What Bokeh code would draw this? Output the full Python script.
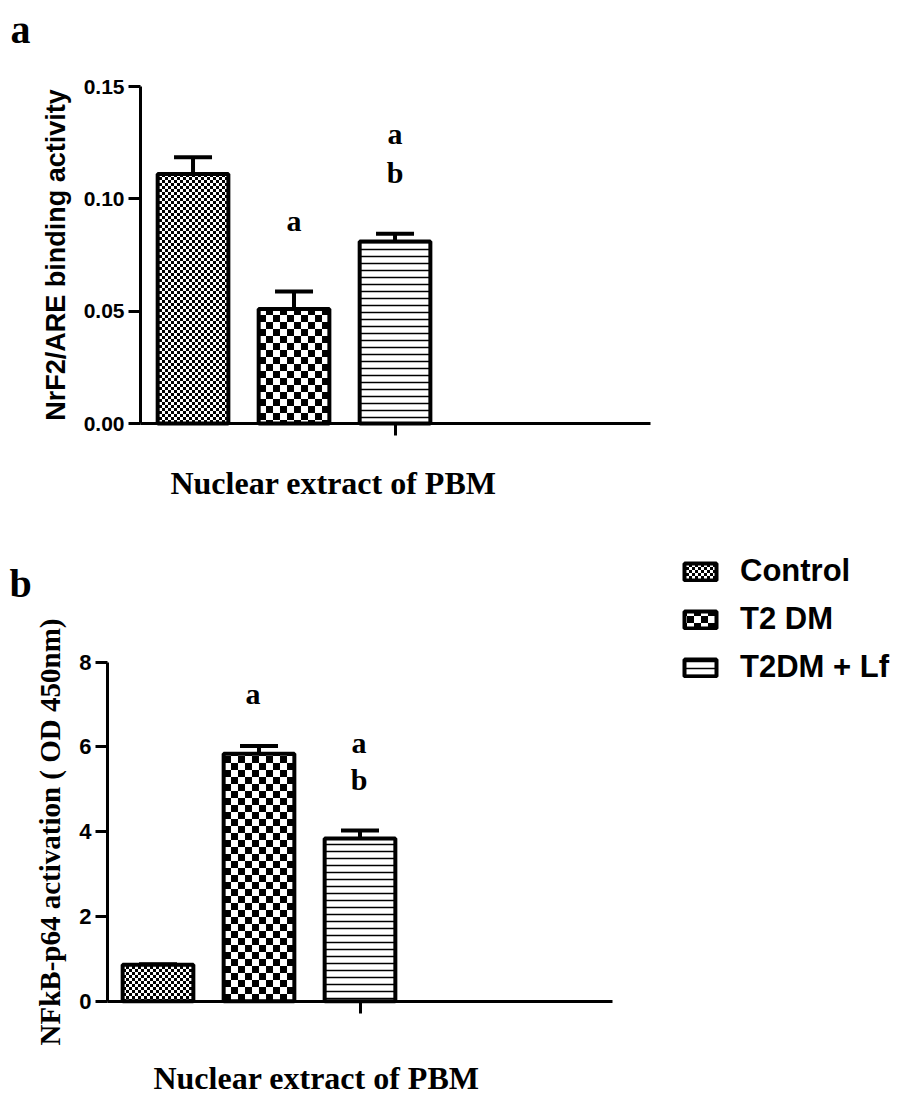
import base64
import struct
import zlib

from bokeh.plotting import figure
from bokeh.models import (ColumnDataSource, Whisker, TeeHead, FixedTicker, Label,
                          ImageURLTexture, Legend, LegendItem, LinearAxis, Range1d)
from bokeh.core.properties import value
from bokeh.embed import file_html
from bokeh.resources import INLINE

# ---------------- data ----------------
groups = ["Control", "T2 DM", "T2DM + Lf"]
bar_pos = [1, 2, 3]

nrf2_mean = [0.111, 0.051, 0.081]
nrf2_sem = [0.0075, 0.0077, 0.0035]

nfkb_mean = [0.86, 5.84, 3.84]
nfkb_sem = [0.01, 0.18, 0.19]

a_sig_text = ["a", "a", "b"]
a_sig_x = [2, 3, 3]
a_sig_y = [0.0902, 0.1289, 0.1116]

b_sig_text = ["a", "a", "b"]
b_sig_x = [1.94, 2.99, 2.99]
b_sig_y = [7.26, 6.10, 5.23]

a_yticks = [0.0, 0.05, 0.10, 0.15]
b_yticks = [0, 2, 4, 6, 8]

# ---------------- layout constants (pixels) ----------------
W, H = 890, 1099
SANS = "Liberation Sans"
SERIF = "Liberation Serif"

# panel a: axis origin at px (140, 423), 101 px per bar step, 0.15 -> px 86
A_X0, A_Y0, A_XS, A_YS, A_XSTART = 140, 423, 101.0, 337 / 0.15, 0.48
# panel b: axis origin at px (107, 1000.7), 0..8 over 339 px
B_X0, B_Y0, B_XS, B_YS, B_XSTART = 107, 1000.7, 101.0, 339 / 8, 0.5

p = figure(width=W, height=H, min_border=0,
           x_range=Range1d(0, W), y_range=Range1d(H, 0),
           x_axis_location=None, y_axis_location=None,
           output_backend="svg", toolbar_location=None)
p.grid.visible = False
p.outline_line_color = None

p.extra_x_ranges = {
    "xa": Range1d(A_XSTART - A_X0 / A_XS, A_XSTART + (W - A_X0) / A_XS),
    "xb": Range1d(B_XSTART - B_X0 / B_XS, B_XSTART + (W - B_X0) / B_XS),
}
p.extra_y_ranges = {
    "ya": Range1d((A_Y0 - H) / A_YS, A_Y0 / A_YS),
    "yb": Range1d((B_Y0 - H) / B_YS, B_Y0 / B_YS),
}


def checker_png(n):
    """data-URL PNG of a black/white checker tile n x n px (square n/2)."""
    s = n // 2
    raw = b"".join(
        b"\x00" + bytes(0 if ((x // s + y // s) % 2 == 0) else 255 for x in range(n))
        for y in range(n))

    def chunk(tag, data):
        return (struct.pack(">I", len(data)) + tag + data
                + struct.pack(">I", zlib.crc32(tag + data) & 0xffffffff))

    png = (b"\x89PNG\r\n\x1a\n"
           + chunk(b"IHDR", struct.pack(">IIBBBBB", n, n, 8, 0, 0, 0, 0))
           + chunk(b"IDAT", zlib.compress(raw))
           + chunk(b"IEND", b""))
    return "data:image/png;base64," + base64.b64encode(png).decode()


fine_tex = ImageURLTexture(url=checker_png(6))
big_tex = ImageURLTexture(url=checker_png(14))


def hatch_for(i):
    if i == 0:
        return dict(hatch_pattern=value("fine"), hatch_extra={"fine": fine_tex})
    if i == 1:
        return dict(hatch_pattern=value("big"), hatch_extra={"big": big_tex})
    return dict(hatch_pattern="horizontal_line", hatch_scale=7, hatch_weight=1.5)


def style_axis(ax):
    ax.axis_line_width = 3
    ax.axis_line_color = "black"
    ax.major_tick_line_width = 3
    ax.major_tick_line_color = "black"
    ax.major_tick_out = 12
    ax.major_tick_in = 0
    ax.minor_tick_line_color = None


def add_panel(xr, yr, xstart, xend, ytop, yticks, overrides, tick_size,
              ylabel, ylabel_font, ylabel_size, means, sems,
              sig_x, sig_y, sig_text):
    yax = LinearAxis(x_range_name=xr, y_range_name=yr, fixed_location=xstart,
                     bounds=(0, ytop), ticker=FixedTicker(ticks=yticks),
                     major_label_overrides=overrides,
                     major_label_text_font=SANS, major_label_text_font_style="bold",
                     major_label_text_font_size=tick_size,
                     major_label_text_color="black", major_label_standoff=4,
                     axis_label=ylabel, axis_label_text_font=ylabel_font,
                     axis_label_text_font_style="bold",
                     axis_label_text_font_size=ylabel_size,
                     axis_label_text_color="black", axis_label_standoff=10)
    style_axis(yax)
    p.add_layout(yax, "left")
    xax = LinearAxis(x_range_name=xr, y_range_name=yr, fixed_location=0,
                     bounds=(xstart, xend), ticker=FixedTicker(ticks=[3]),
                     major_label_overrides={3: ""},
                     major_label_text_font_size="1px")
    style_axis(xax)
    p.add_layout(xax, "below")

    rs = []
    for i in range(len(groups)):
        r = p.vbar(x=[bar_pos[i]], top=[means[i]], bottom=0, width=0.7,
                   x_range_name=xr, y_range_name=yr,
                   fill_color="white", hatch_color="black",
                   line_color="black", line_width=4, **hatch_for(i))
        rs.append(r)
    src = ColumnDataSource(dict(
        x=bar_pos,
        upper=[m + s for m, s in zip(means, sems)],
        lower=means,
    ))
    w = Whisker(source=src, base="x", upper="upper", lower="lower",
                x_range_name=xr, y_range_name=yr,
                upper_head=TeeHead(size=38, line_width=4, line_color="black"),
                lower_head=None, line_width=4, line_color="black")
    p.add_layout(w)
    p.text(x=sig_x, y=sig_y, text=sig_text, x_range_name=xr, y_range_name=yr,
           text_font=value(SERIF), text_font_style="bold", text_font_size="30px",
           text_align="center", text_baseline="middle", text_color="black")
    return rs


add_panel("xa", "ya", A_XSTART, A_XSTART + 510 / A_XS, 0.15, a_yticks,
          {0.0: "0.00", 0.05: "0.05", 0.1: "0.10", 0.15: "0.15"}, "21px",
          "NrF2/ARE binding activity", SANS, "27px",
          nrf2_mean, nrf2_sem, a_sig_x, a_sig_y, a_sig_text)
rs_b = add_panel("xb", "yb", B_XSTART, B_XSTART + 505 / B_XS, 8, b_yticks,
                 {}, "22px", "NFkB-p64 activation ( OD 450nm)", SERIF, "29px",
                 nfkb_mean, nfkb_sem, b_sig_x, b_sig_y, b_sig_text)


def page_label(x, y, text, size):
    p.add_layout(Label(x=x, y=y, text=text, text_font=SERIF, text_font_style="bold",
                       text_font_size=size, text_align="center",
                       text_baseline="middle", text_color="black"))


page_label(20, 29, "a", "40px")
page_label(20, 583, "b", "40px")
page_label(333, 482, "Nuclear extract of PBM", "32px")
page_label(316, 1077, "Nuclear extract of PBM", "32px")

legend = Legend(items=[LegendItem(label=g, renderers=[r]) for g, r in zip(groups, rs_b)],
                location=(680, H - 685), padding=0, margin=0, spacing=12,
                glyph_width=40, glyph_height=21, label_standoff=20,
                label_text_font=SANS, label_text_font_style="bold",
                label_text_font_size="31px", label_text_color="black",
                border_line_color=None, background_fill_alpha=0)
p.add_layout(legend, "center")

open("out.html", "w").write(file_html(p, INLINE))
